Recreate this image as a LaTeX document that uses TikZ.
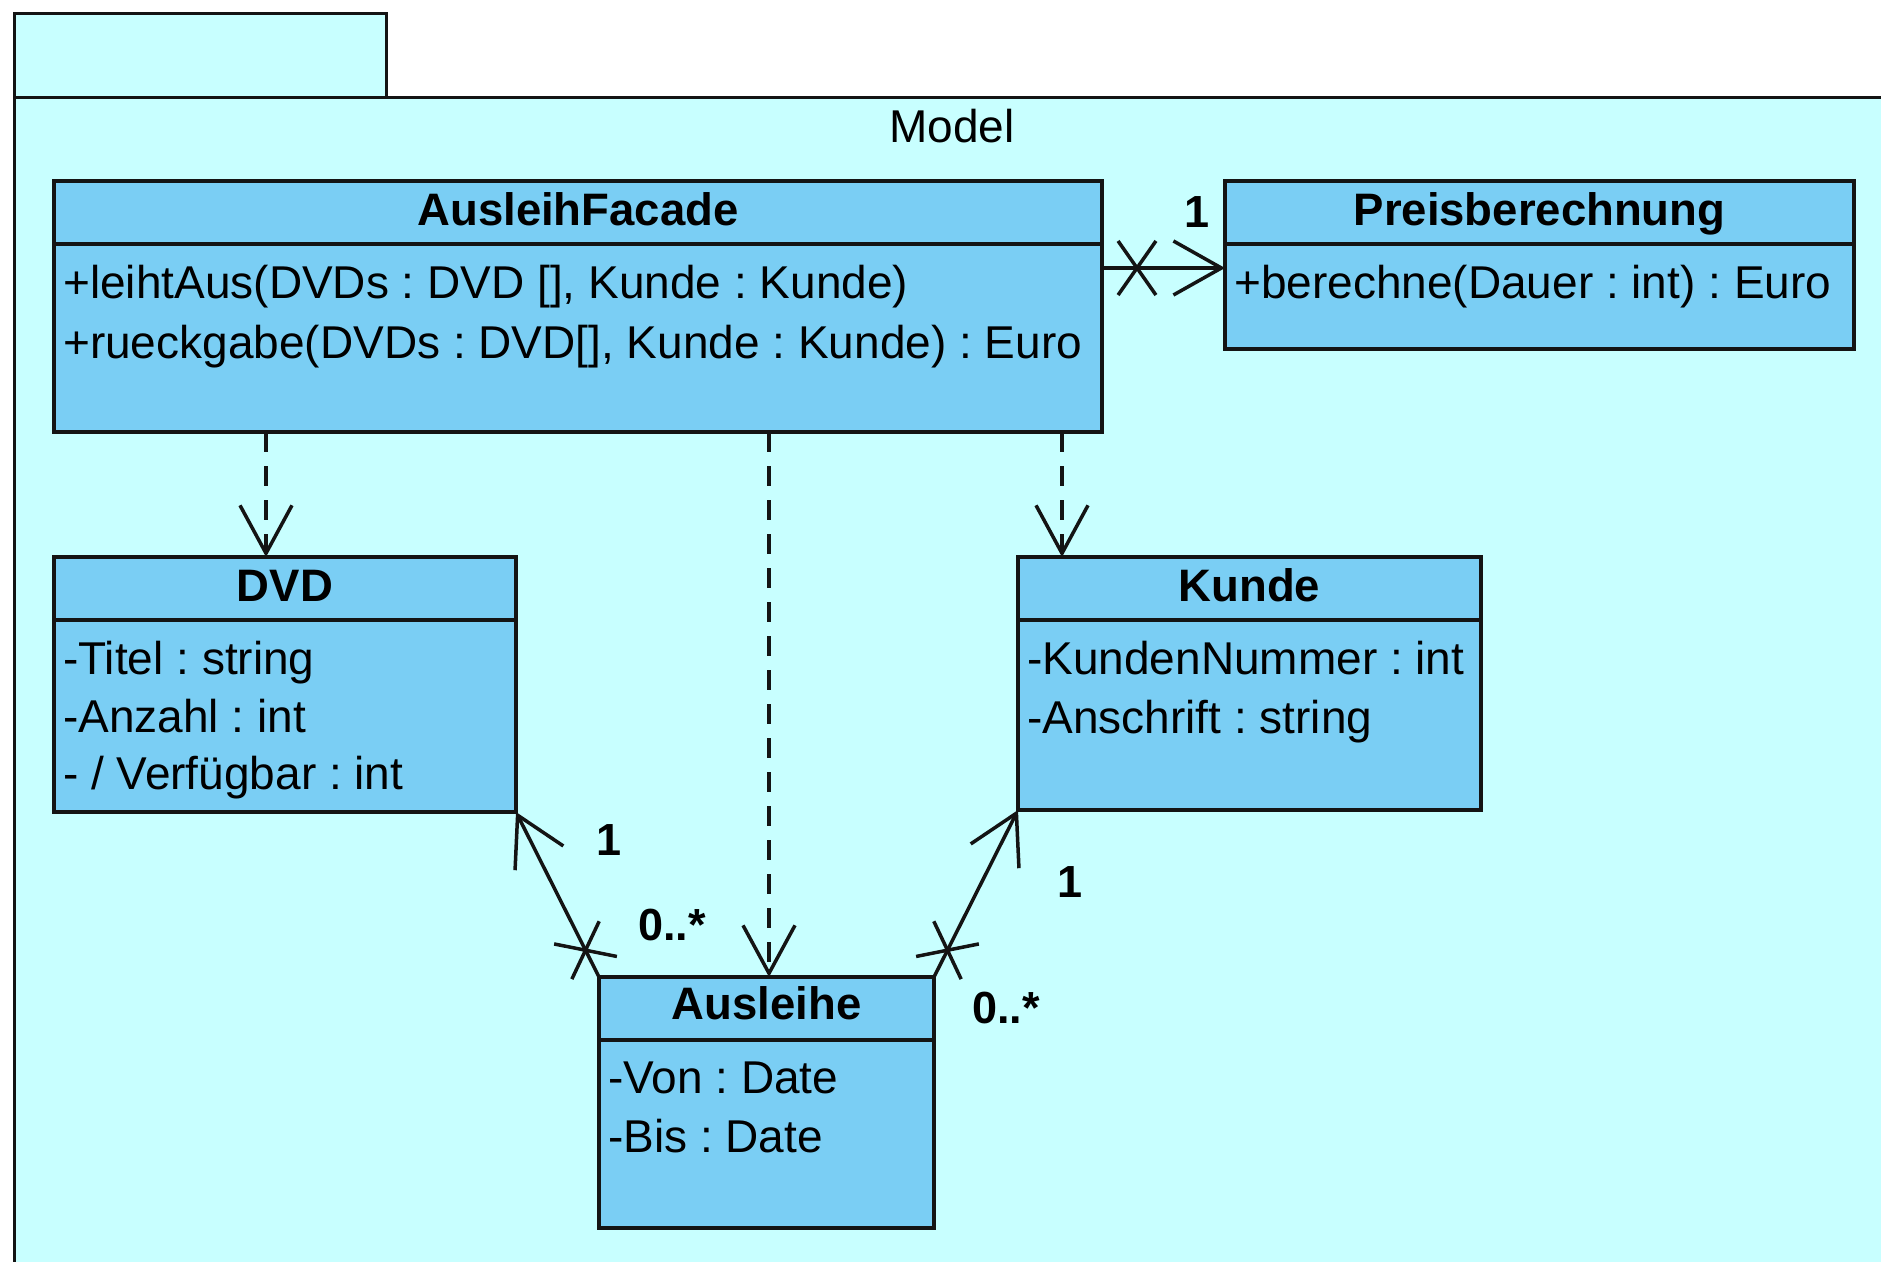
\documentclass[tikz,border=0pt]{standalone}
\usepackage{fontspec}
\setmainfont{Liberation Sans}
\usetikzlibrary{arrows.meta,calc}
\definecolor{pkgfill}{RGB}{200,255,255}
\definecolor{clsfill}{RGB}{122,206,244}
\definecolor{ink}{RGB}{20,20,20}
\frenchspacing
\begin{document}
\begin{tikzpicture}[x=1pt,y=-1pt,
  font=\fontsize{46}{55}\selectfont,
  classbox/.style={draw=ink, fill=clsfill, line width=3.5pt, inner sep=0pt,
    outer sep=0pt, anchor=north west},
  divider/.style={draw=ink, line width=3.5pt},
  hdr/.style={anchor=base, inner sep=0pt, font=\fontsize{45.5}{55}\selectfont\bfseries},
  attr/.style={anchor=base west, inner sep=0pt},
  mult/.style={anchor=base, inner sep=0pt, font=\fontsize{45}{54}\selectfont\bfseries},
  assoc/.style={draw=ink, line width=3.5pt},
  navtip/.style={-{Straight Barb[length=48pt,width=54pt]}},
  dep/.style={draw=ink, line width=3.5pt, dash pattern=on 20pt off 14pt,
    -{Straight Barb[length=48pt,width=52pt]}},
  xmark/.style={draw=ink, line width=3.5pt},
]
\useasboundingbox (0,0) rectangle (1881,1261);
\clip (0,0) rectangle (1881,1261);
\fill[white] (0,0) rectangle (1881,1261);

% package "Model": tab and body
\draw[draw=ink, fill=pkgfill, line width=3pt] (14,13) rectangle (386,97);
\draw[draw=ink, fill=pkgfill, line width=3pt] (14,97) rectangle (1920,1300);
\node[anchor=base, inner sep=0pt] (pkgname) at (952,142) {Model};

% AusleihFacade
\node[classbox, minimum width=1048pt, minimum height=251pt] (facade) at (54,181) {};
\draw[divider] ([yshift=-63pt]facade.north west) -- ([yshift=-63pt]facade.north east);
\node[hdr] (facadeT) at ([yshift=-44pt]facade.north) {AusleihFacade};
\node[attr] (facadeA1) at ([xshift=9pt,yshift=-117pt]facade.north west)
  {+leihtAus(DVDs : DVD [], Kunde : Kunde)};
\node[attr] (facadeA2) at ([xshift=9pt,yshift=-177pt]facade.north west)
  {+rueckgabe(DVDs : DVD[], Kunde : Kunde) : Euro};

% Preisberechnung
\node[classbox, minimum width=629pt, minimum height=168pt] (preis) at (1225,181) {};
\draw[divider] ([yshift=-63pt]preis.north west) -- ([yshift=-63pt]preis.north east);
\node[hdr] (preisT) at ([yshift=-44pt]preis.north) {Preisberechnung};
\node[attr] (preisA1) at ([xshift=9pt,yshift=-117pt]preis.north west)
  {+berechne(Dauer : int) : Euro};

% DVD
\node[classbox, minimum width=462pt, minimum height=255pt] (dvd) at (54,557) {};
\draw[divider] ([yshift=-63pt]dvd.north west) -- ([yshift=-63pt]dvd.north east);
\node[hdr] (dvdT) at ([yshift=-44pt]dvd.north) {DVD};
\node[attr] (dvdA1) at ([xshift=9pt,yshift=-117pt]dvd.north west) {-Titel : string};
\node[attr] (dvdA2) at ([xshift=9pt,yshift=-175pt]dvd.north west) {-Anzahl : int};
\node[attr] (dvdA3) at ([xshift=9pt,yshift=-232pt]dvd.north west) {- / Verfügbar : int};

% Kunde
\node[classbox, minimum width=463pt, minimum height=253pt] (kunde) at (1018,557) {};
\draw[divider] ([yshift=-63pt]kunde.north west) -- ([yshift=-63pt]kunde.north east);
\node[hdr] (kundeT) at ([yshift=-44pt]kunde.north) {Kunde};
\node[attr] (kundeA1) at ([xshift=9pt,yshift=-117pt]kunde.north west) {-KundenNummer : int};
\node[attr] (kundeA2) at ([xshift=9pt,yshift=-176pt]kunde.north west) {-Anschrift : string};

% Ausleihe
\node[classbox, minimum width=335pt, minimum height=251pt] (ausleihe) at (599,977) {};
\draw[divider] ([yshift=-63pt]ausleihe.north west) -- ([yshift=-63pt]ausleihe.north east);
\node[hdr] (ausleiheT) at ([yshift=-42pt]ausleihe.north) {Ausleihe};
\node[attr] (ausleiheA1) at ([xshift=9pt,yshift=-116pt]ausleihe.north west) {-Von : Date};
\node[attr] (ausleiheA2) at ([xshift=9pt,yshift=-175pt]ausleihe.north west) {-Bis : Date};

% dependencies of the facade
\draw[dep] ([xshift=212pt]facade.south west) -- ([xshift=212pt]dvd.north west);
\draw[dep] ([xshift=715pt]facade.south west) -- ([xshift=170pt]ausleihe.north west);
\draw[dep] ([xshift=1008pt]facade.south west) -- ([xshift=44pt]kunde.north west);

% facade -> Preisberechnung
\coordinate (fpS) at ([yshift=-87pt]facade.north east);
\coordinate (fpE) at ([yshift=-87pt]preis.north west);
\draw[assoc, navtip] (fpS) -- (fpE);
\coordinate (fpX) at ($(fpS)!35pt!(fpE)$);
\draw[xmark] ($(fpX)!33pt!55:(fpE)$) -- ($(fpX)!33pt!235:(fpE)$)
             ($(fpX)!33pt!-55:(fpE)$) -- ($(fpX)!33pt!125:(fpE)$);
\node[mult] (fpM) at (1197,227) {1};

% Ausleihe -> DVD
\draw[assoc, navtip] (ausleihe.north west) -- (dvd.south east);
\coordinate (adX) at ($(ausleihe.north west)!30pt!(dvd.south east)$);
\draw[xmark] ($(adX)!32pt!52:(dvd.south east)$) -- ($(adX)!32pt!232:(dvd.south east)$)
             ($(adX)!32pt!-52:(dvd.south east)$) -- ($(adX)!32pt!128:(dvd.south east)$);
\node[mult] (adM1) at (609,855) {1};
\node[mult] (adM2) at (672,940) {0..*};

% Ausleihe -> Kunde
\draw[assoc, navtip] (ausleihe.north east) -- (kunde.south west);
\coordinate (akX) at ($(ausleihe.north east)!30pt!(kunde.south west)$);
\draw[xmark] ($(akX)!32pt!52:(kunde.south west)$) -- ($(akX)!32pt!232:(kunde.south west)$)
             ($(akX)!32pt!-52:(kunde.south west)$) -- ($(akX)!32pt!128:(kunde.south west)$);
\node[mult] (akM1) at (1070,897) {1};
\node[mult] (akM2) at (1006,1023) {0..*};
\end{tikzpicture}
\end{document}
